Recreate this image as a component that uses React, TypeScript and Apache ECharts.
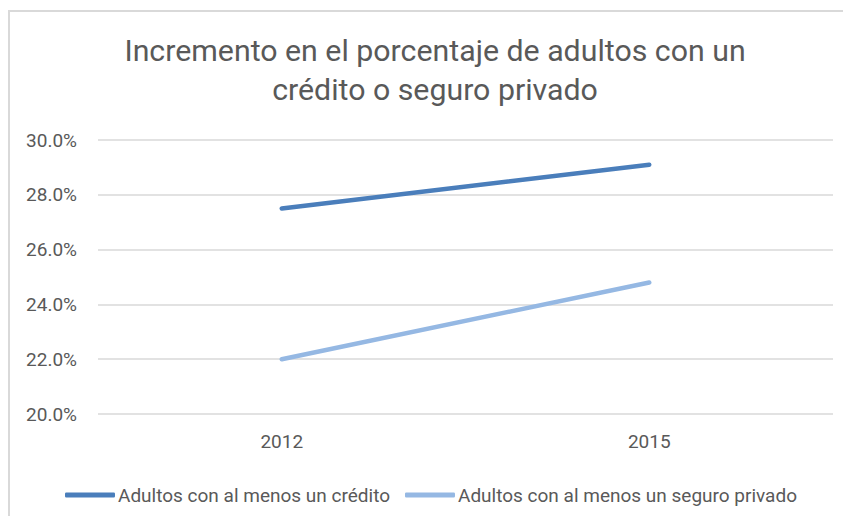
import React, { useEffect, useRef } from "react";
import * as echarts from "echarts";

const titleLines = ["Incremento en el porcentaje de adultos con un", "crédito o seguro privado"];
const categories = ["2012", "2015"];
const seriesNames = ["Adultos con al menos un crédito", "Adultos con al menos un seguro privado"];
const creditValues = [27.5, 29.1];
const insuranceValues = [22.0, 24.8];
const yMin = 20;
const yMax = 30;
const yInterval = 2;

const FONT = "Roboto, 'Open Sans', sans-serif";
const TEXT_COLOR = "#595959";

export default function App() {
  const ref = useRef<HTMLDivElement>(null);
  useEffect(() => {
    document.body.style.margin = "0";
    const chart = echarts.init(ref.current!, null, { renderer: "svg" });
    chart.setOption({
      animation: false,
      backgroundColor: "#ffffff",
      textStyle: { fontFamily: FONT },
      graphic: [
        {
          type: "rect",
          shape: { x: 9, y: 11, width: 900, height: 600 },
          style: { fill: "none", stroke: "#d9d9d9", lineWidth: 2 },
          silent: true,
          z: -1,
        },
        ...titleLines.map((t, i) => ({
          type: "text",
          x: 435,
          y: 50.5 + i * 39,
          style: {
            text: t,
            fill: TEXT_COLOR,
            font: `30.3px ${FONT}`,
            textAlign: "center",
            textVerticalAlign: "middle",
          },
        })),
      ],
      grid: { left: 98, right: 10, top: 140, bottom: 102, containLabel: false },
      legend: {
        top: 480,
        left: 60,
        itemWidth: 50,
        itemHeight: 5,
        itemGap: 15,
        icon: "roundRect",
        textStyle: {
          color: TEXT_COLOR,
          fontSize: 19,
          fontFamily: FONT,
          lineHeight: 20,
          padding: [0, 0, 0, -2],
        },
        data: seriesNames,
      },
      xAxis: {
        type: "category",
        data: categories,
        boundaryGap: true,
        axisLine: { show: false },
        axisTick: { show: false },
        axisLabel: { color: TEXT_COLOR, fontSize: 19, margin: 18 },
      },
      yAxis: {
        type: "value",
        min: yMin,
        max: yMax,
        interval: yInterval,
        axisLine: { show: false },
        axisTick: { show: false },
        axisLabel: {
          color: TEXT_COLOR,
          fontSize: 19,
          margin: 21,
          formatter: (v: number) => v.toFixed(1) + "%",
        },
        splitLine: { lineStyle: { color: "#d9d9d9", width: 1.5 } },
      },
      series: [
        {
          name: seriesNames[0],
          type: "line",
          data: creditValues,
          symbol: "none",
          lineStyle: { color: "#4a7ebb", width: 4.5, cap: "round" },
          itemStyle: { color: "#4a7ebb" },
        },
        {
          name: seriesNames[1],
          type: "line",
          data: insuranceValues,
          symbol: "none",
          lineStyle: { color: "#95b8e3", width: 4.5, cap: "round" },
          itemStyle: { color: "#95b8e3" },
        },
      ],
    });
    return () => chart.dispose();
  }, []);
  return <div ref={ref} style={{ width: 843, height: 516 }} />;
}
